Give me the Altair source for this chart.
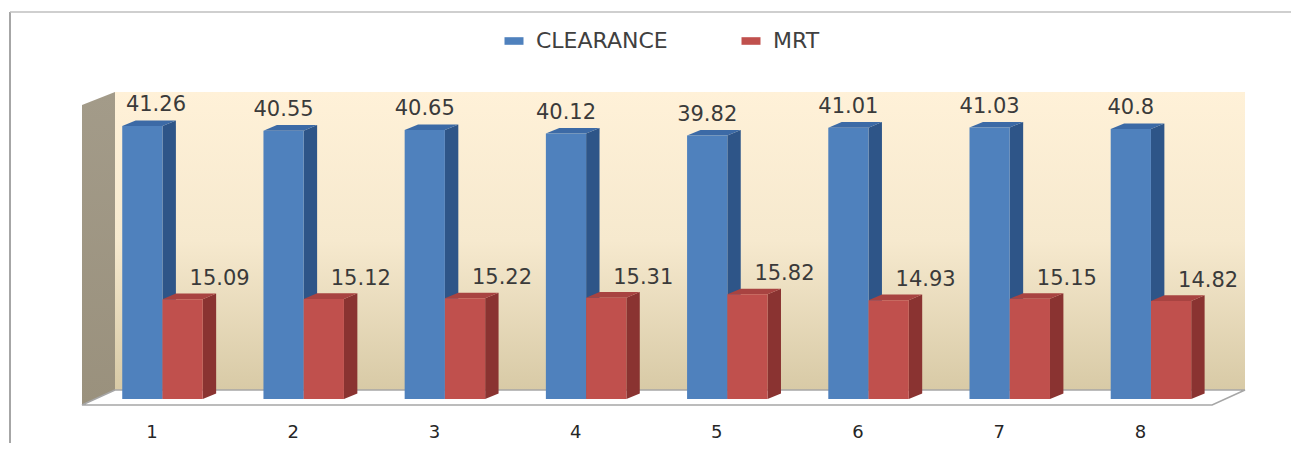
import altair as alt
import pandas as pd

# ---- data ----
categories = [1, 2, 3, 4, 5, 6, 7, 8]
clearance = [41.26, 40.55, 40.65, 40.12, 39.82, 41.01, 41.03, 40.8]
mrt = [15.09, 15.12, 15.22, 15.31, 15.82, 14.93, 15.15, 14.82]
series_names = ["CLEARANCE", "MRT"]

# ---- styling / geometry constants (data units of the scales) ----
front_colors = ["#4F81BD", "#C0504D"]
X_DOMAIN = [0.43, 8.666]
Y_DOMAIN = [0, 46.4]
BAR_W = 0.285
DX = 0.095
DY = 0.85
WALL_FRONT_X = 0.43
WALL_BACK_X = 0.6637
FLOOR_FRONT_Y = -0.907
FLOOR_BACK_Y = 1.36
FLOOR_FRONT_RIGHT = 8.433
WALL_TOP_FRONT = 44.43
FONT = "DejaVu Sans"

# ---- tables built from the arrays ----
rows = []
for c, a, b in zip(categories, clearance, mrt):
    rows.append(dict(cat=c, series="CLEARANCE", value=a, x0=c - BAR_W, x1=c))
    rows.append(dict(cat=c, series="MRT", value=b, x0=c, x1=c + BAR_W))
bars = pd.DataFrame(rows)
bars["id"] = bars["series"] + bars["cat"].astype(str)
bars["zero"] = 0.0
bars["label"] = [str(v) for v in bars["value"]]
bars["lx"] = [
    max(r.x0 + BAR_W / 2, WALL_BACK_X + 0.29) if r.series == "CLEARANCE" else r.x0 + BAR_W / 2
    for r in bars.itertuples()
]

faces = []
for r in bars.itertuples():
    for t in (0, 1):
        faces.append(dict(
            id=r.id, series=r.series, t=t,
            sx=r.x1 + t * DX, sytop=r.value + t * DY, sybot=t * DY,
            ty=r.value + t * DY, tx0=r.x0 + t * DX, tx1=r.x1 + t * DX,
        ))
faces = pd.DataFrame(faces)

back_wall = pd.DataFrame([dict(x0=WALL_BACK_X, x1=X_DOMAIN[1], y0=FLOOR_BACK_Y, y1=Y_DOMAIN[1])])
left_wall = pd.DataFrame(dict(x=[WALL_FRONT_X, WALL_BACK_X],
                              top=[WALL_TOP_FRONT, Y_DOMAIN[1]],
                              bot=[FLOOR_FRONT_Y, FLOOR_BACK_Y]))
floor = pd.DataFrame(dict(y=[FLOOR_FRONT_Y, FLOOR_BACK_Y],
                          xl=[WALL_FRONT_X, WALL_BACK_X],
                          xr=[FLOOR_FRONT_RIGHT, X_DOMAIN[1]]))

xs = alt.Scale(domain=X_DOMAIN, nice=False, zero=False)
ys = alt.Scale(domain=Y_DOMAIN, nice=False, zero=False)
XAX = alt.Axis(values=categories, format="d", labelFontSize=18, labelFont=FONT,
               labelColor="#262626", domain=False, ticks=False, grid=False,
               labelPadding=24, labelOffset=-11, labelFlush=False, title=None)

W, H = 1163, 307
PAD = {"left": 74, "top": 84, "right": 48, "bottom": 44}

one = alt.Data(values=[{"a": 1}])
border_left = alt.Chart(one).mark_rule(color="#A6A6A6", strokeWidth=2).encode(
    x=alt.value(-72), y=alt.value(-80), y2=alt.value(H + 44))
border_top = alt.Chart(one).mark_rule(color="#BFBFBF", strokeWidth=1.5).encode(
    x=alt.value(-72), x2=alt.value(W + 46), y=alt.value(-80))

wall_grad = alt.Gradient(
    gradient="linear",
    stops=[alt.GradientStop(color="#FFF1D8", offset=0),
           alt.GradientStop(color="#F6E9CE", offset=0.5),
           alt.GradientStop(color="#D8CAA6", offset=1)],
    x1=0, x2=0, y1=0, y2=1)

back = alt.Chart(back_wall).mark_rect(fill=wall_grad).encode(
    x=alt.X("x0:Q", scale=xs, axis=XAX, title=None), x2="x1:Q",
    y=alt.Y("y0:Q", scale=ys, axis=None), y2="y1:Q")

lwall = alt.Chart(left_wall).mark_area(
    fill=alt.Gradient(gradient="linear",
                      stops=[alt.GradientStop(color="#A39B89", offset=0),
                             alt.GradientStop(color="#9A917D", offset=1)],
                      x1=0, x2=0, y1=0, y2=1)).encode(
    x=alt.X("x:Q", scale=xs, axis=XAX, title=None),
    y=alt.Y("top:Q", scale=ys, axis=None, stack=None), y2="bot:Q")

flr = alt.Chart(floor).mark_area(orient="horizontal", fill="white",
                                 stroke="#A6A6A6", strokeWidth=1.5).encode(
    y=alt.Y("y:Q", scale=ys, axis=None),
    x=alt.X("xl:Q", scale=xs, axis=XAX, title=None, stack=None), x2="xr:Q")

is_blue = alt.datum.series == "CLEARANCE"

sides = alt.Chart(faces).mark_area(orient="vertical").encode(
    x=alt.X("sx:Q", scale=xs, axis=XAX, title=None),
    y=alt.Y("sytop:Q", scale=ys, axis=None, stack=None), y2="sybot:Q",
    detail="id:N",
    fill=alt.condition(is_blue, alt.value("#2E5588"), alt.value("#8A3331")),
)

tops = alt.Chart(faces).mark_area(orient="horizontal").encode(
    y=alt.Y("ty:Q", scale=ys, axis=None),
    x=alt.X("tx0:Q", scale=xs, axis=XAX, title=None, stack=None), x2="tx1:Q",
    detail="id:N",
    fill=alt.condition(is_blue, alt.value("#3C6AA6"), alt.value("#A84341")),
)

fronts = alt.Chart(bars).mark_bar().encode(
    x=alt.X("x0:Q", scale=xs, title=None, axis=XAX),
    x2="x1:Q",
    y=alt.Y("value:Q", scale=ys, axis=None), y2="zero:Q",
    color=alt.Color("series:N",
                    scale=alt.Scale(domain=series_names, range=front_colors),
                    legend=alt.Legend(orient="none", legendX=421, legendY=-62,
                                      direction="horizontal", title=None,
                                      symbolType="M-1,-0.4H1V0.4H-1Z", symbolSize=361,
                                      symbolStrokeWidth=0,
                                      labelFontSize=22, labelFont=FONT, labelColor="#404040",
                                      labelOffset=11, columnPadding=72)),
)

blue_labels = alt.Chart(bars).transform_filter(is_blue).mark_text(
    dy=-21, fontSize=21, font=FONT, color="#3A3A3A", baseline="middle").encode(
    x=alt.X("lx:Q", scale=xs, axis=XAX, title=None),
    y=alt.Y("value:Q", scale=ys, axis=None), text="label:N")

red_labels = alt.Chart(bars).transform_filter(~is_blue).mark_text(
    dx=37, dy=-20, fontSize=21, font=FONT, color="#3A3A3A", baseline="middle").encode(
    x=alt.X("lx:Q", scale=xs, axis=XAX, title=None),
    y=alt.Y("value:Q", scale=ys, axis=None), text="label:N")

chart = alt.layer(
    border_left, border_top, back, lwall, flr, sides, tops, fronts, blue_labels, red_labels
).properties(
    width=W, height=H, padding=PAD,
    autosize=alt.AutoSizeParams(type="none"),
    background="white",
).configure_view(stroke=None)

chart.save("out.html", embed_options={"renderer": "svg", "actions": False})
